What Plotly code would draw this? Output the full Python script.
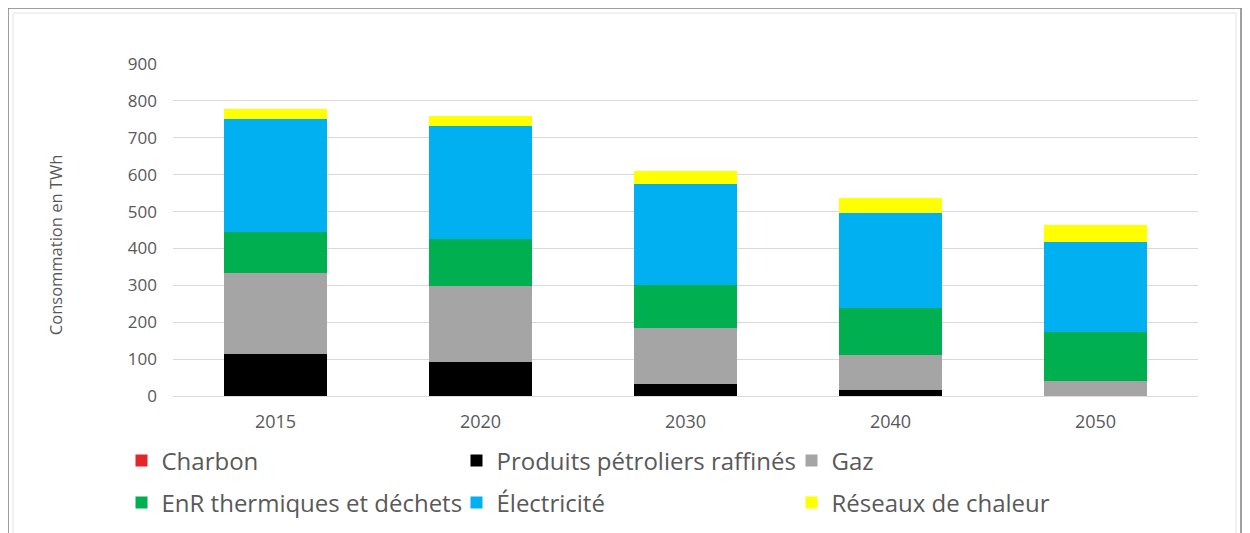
import plotly.graph_objects as go

annees = ["2015", "2020", "2030", "2040", "2050"]
charbon = [0, 0, 0, 0, 0]
petrole = [113, 92, 33, 16, 0]
gaz = [221, 206, 150, 94, 40]
enr = [111, 127, 119, 129, 133]
electricite = [305, 308, 273, 256, 245]
reseaux = [28, 27, 35, 42, 45]

series = [
    ("Charbon", charbon, "#e3262a"),
    ("Produits pétroliers raffinés", petrole, "#000000"),
    ("Gaz", gaz, "#a5a5a5"),
    ("EnR thermiques et déchets", enr, "#00b050"),
    ("Électricité", electricite, "#00b0f0"),
    ("Réseaux de chaleur", reseaux, "#ffff00"),
]

W, H = 1250, 533
OFF = 8  # marge par défaut du <body> de la page
# zone de tracé voulue, en px à l'écran
PX_LEFT, PX_RIGHT, PX_TOP, PX_BOTTOM = 173, 1198, 64, 395.7
ML = PX_LEFT - OFF
MR = W - (PX_RIGHT - OFF)
MT = PX_TOP - OFF
MB = H - (PX_BOTTOM - OFF)
pw = W - ML - MR
ph = H - MT - MB

# début du texte de chaque entrée de légende (écran)
leg_cols = [162, 497, 832]
leg_rows = [461, 503]

fig = go.Figure()
legend_layout = {}
for i, (name, vals, color) in enumerate(series):
    key = "legend" if i == 0 else f"legend{i + 1}"
    fig.add_trace(go.Bar(x=annees, y=vals, name=name, legend=key,
                         marker=dict(color=color, line=dict(width=0))))
    col = leg_cols[i % 3]
    row = leg_rows[i // 3]
    legend_layout[key] = dict(
        xref="container", yref="container",
        x=(col - 48.5) / W, y=1 - (row - OFF) / H,
        xanchor="left", yanchor="middle",
        bgcolor="rgba(0,0,0,0)",
        font=dict(family="Open Sans", size=24, color="#595959"),
    )


def px_x(x):
    return (x - PX_LEFT) / pw


def px_y(y):
    return (PX_BOTTOM - y) / ph


# cadre autour du graphique
fig.add_shape(type="rect", xref="paper", yref="paper",
              x0=px_x(8), x1=px_x(1241), y0=px_y(560), y1=px_y(8),
              line=dict(color="#808080", width=1.5), layer="below")
fig.add_shape(type="rect", xref="paper", yref="paper",
              x0=px_x(13), x1=px_x(1236), y0=px_y(560), y1=px_y(13),
              line=dict(color="#e3e3e3", width=1), layer="below")

# titre de l'axe vertical
fig.add_annotation(text="Consommation en TWh", xref="paper", yref="paper",
                   x=px_x(55), y=px_y(245), xanchor="center", yanchor="middle",
                   textangle=-90, showarrow=False,
                   font=dict(size=16.5, color="#595959"))

fig.update_layout(
    width=W, height=H,
    barmode="stack",
    bargap=0.5,
    plot_bgcolor="white",
    paper_bgcolor="white",
    margin=dict(l=ML, r=MR, t=MT, b=MB, autoexpand=False),
    font=dict(family="Open Sans", color="#595959"),
    showlegend=True,
    **legend_layout,
)
fig.update_yaxes(
    range=[0, 900], dtick=100,
    showgrid=True, gridcolor="#d9d9d9", gridwidth=1,
    zeroline=True, zerolinecolor="#d9d9d9", zerolinewidth=1,
    tickfont=dict(size=17, color="#595959"),
    ticks="", ticklabelstandoff=15,
)
fig.update_xaxes(
    showgrid=False, showline=False,
    tickfont=dict(size=18, color="#595959"),
    ticks="", ticklabelstandoff=13,
)

fig.write_html("out.html")
